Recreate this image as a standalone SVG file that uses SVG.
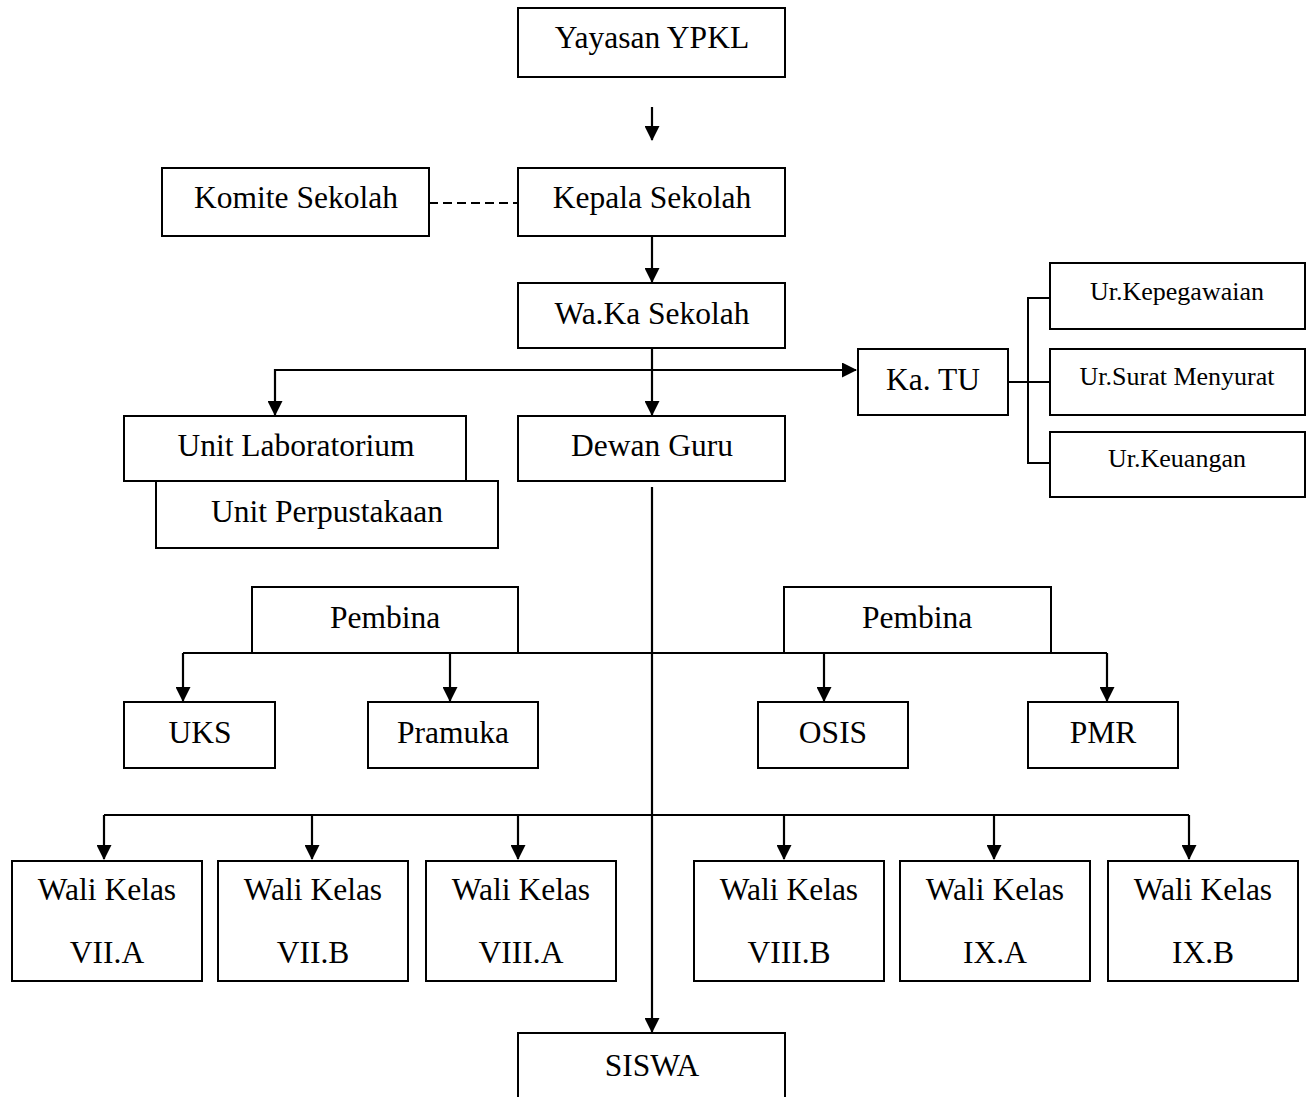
<svg xmlns="http://www.w3.org/2000/svg" width="1311" height="1097" viewBox="0 0 1311 1097">
<style>
.box{fill:#fff;stroke:#000;stroke-width:2}
.t{font-family:"Liberation Serif","Times New Roman",serif;font-size:31.5px;fill:#000;text-anchor:middle}
.s{font-family:"Liberation Serif","Times New Roman",serif;font-size:26px;fill:#000;text-anchor:middle}
.c{fill:none;stroke:#000;stroke-width:2}
.a{fill:none;stroke:#000;stroke-width:2.2;marker-end:url(#arr)}
</style>
<defs>
<marker id="arr" viewBox="0 0 15 15" refX="14" refY="7.5" markerWidth="15" markerHeight="15" markerUnits="userSpaceOnUse" orient="auto">
<path d="M0,0 L15,7.5 L0,15 z" fill="#000"/>
</marker>
</defs>
<rect x="0" y="0" width="1311" height="1097" fill="#fff"/>
<g id="connectors">
<line class="a" x1="652" y1="107" x2="652" y2="140"/>
<line class="c" x1="429" y1="203" x2="518" y2="203" stroke-dasharray="9 5"/>
<line class="a" x1="652" y1="236" x2="652" y2="282"/>
<line class="a" x1="652" y1="348" x2="652" y2="415"/>
<polyline class="a" points="652,370 275,370 275,415"/>
<line class="a" x1="652" y1="370" x2="856" y2="370"/>
<line class="c" x1="1008" y1="382" x2="1050" y2="382"/>
<polyline class="c" points="1050,298 1028,298 1028,463 1050,463"/>
<line class="a" x1="652" y1="487" x2="652" y2="1032"/>
<line class="c" x1="183" y1="653" x2="1107" y2="653"/>
<line class="a" x1="183" y1="653" x2="183" y2="701"/>
<line class="a" x1="450" y1="653" x2="450" y2="701"/>
<line class="a" x1="824" y1="653" x2="824" y2="701"/>
<line class="a" x1="1107" y1="653" x2="1107" y2="701"/>
<line class="c" x1="104" y1="815" x2="1189" y2="815"/>
<line class="a" x1="104" y1="815" x2="104" y2="859"/>
<line class="a" x1="312" y1="815" x2="312" y2="859"/>
<line class="a" x1="518" y1="815" x2="518" y2="859"/>
<line class="a" x1="784" y1="815" x2="784" y2="859"/>
<line class="a" x1="994" y1="815" x2="994" y2="859"/>
<line class="a" x1="1189" y1="815" x2="1189" y2="859"/>
</g>
<g id="yayasan"><rect class="box" x="518" y="8" width="267" height="69"/><text class="t" x="652" y="48">Yayasan YPKL</text></g>
<g id="komite"><rect class="box" x="162" y="168" width="267" height="68"/><text class="t" x="296" y="208">Komite Sekolah</text></g>
<g id="kepala"><rect class="box" x="518" y="168" width="267" height="68"/><text class="t" x="652" y="208">Kepala Sekolah</text></g>
<g id="waka"><rect class="box" x="518" y="283" width="267" height="65"/><text class="t" x="652" y="324">Wa.Ka Sekolah</text></g>
<g id="katu"><rect class="box" x="858" y="349" width="150" height="66"/><text class="t" x="933" y="390">Ka. TU</text></g>
<g id="ur-kepegawaian"><rect class="box" x="1050" y="263" width="255" height="66"/><text class="s" x="1177" y="300">Ur.Kepegawaian</text></g>
<g id="ur-surat"><rect class="box" x="1050" y="349" width="255" height="66"/><text class="s" x="1177" y="385">Ur.Surat Menyurat</text></g>
<g id="ur-keuangan"><rect class="box" x="1050" y="432" width="255" height="65"/><text class="s" x="1177" y="467">Ur.Keuangan</text></g>
<g id="unit-lab"><rect class="box" x="124" y="416" width="342" height="65"/><text class="t" x="296" y="456">Unit Laboratorium</text></g>
<g id="unit-perpus"><rect class="box" x="156" y="481" width="342" height="67"/><text class="t" x="327" y="522">Unit Perpustakaan</text></g>
<g id="dewan-guru"><rect class="box" x="518" y="416" width="267" height="65"/><text class="t" x="652" y="456">Dewan Guru</text></g>
<g id="pembina-1"><rect class="box" x="252" y="587" width="266" height="66"/><text class="t" x="385" y="628">Pembina</text></g>
<g id="pembina-2"><rect class="box" x="784" y="587" width="267" height="66"/><text class="t" x="917" y="628">Pembina</text></g>
<g id="uks"><rect class="box" x="124" y="702" width="151" height="66"/><text class="t" x="200" y="743">UKS</text></g>
<g id="pramuka"><rect class="box" x="368" y="702" width="170" height="66"/><text class="t" x="453" y="743">Pramuka</text></g>
<g id="osis"><rect class="box" x="758" y="702" width="150" height="66"/><text class="t" x="833" y="743">OSIS</text></g>
<g id="pmr"><rect class="box" x="1028" y="702" width="150" height="66"/><text class="t" x="1103" y="743">PMR</text></g>
<g id="wk-7a"><rect class="box" x="12" y="861" width="190" height="120"/><text class="t" x="107" y="900">Wali Kelas</text><text class="t" x="107" y="963">VII.A</text></g>
<g id="wk-7b"><rect class="box" x="218" y="861" width="190" height="120"/><text class="t" x="313" y="900">Wali Kelas</text><text class="t" x="313" y="963">VII.B</text></g>
<g id="wk-8a"><rect class="box" x="426" y="861" width="190" height="120"/><text class="t" x="521" y="900">Wali Kelas</text><text class="t" x="521" y="963">VIII.A</text></g>
<g id="wk-8b"><rect class="box" x="694" y="861" width="190" height="120"/><text class="t" x="789" y="900">Wali Kelas</text><text class="t" x="789" y="963">VIII.B</text></g>
<g id="wk-9a"><rect class="box" x="900" y="861" width="190" height="120"/><text class="t" x="995" y="900">Wali Kelas</text><text class="t" x="995" y="963">IX.A</text></g>
<g id="wk-9b"><rect class="box" x="1108" y="861" width="190" height="120"/><text class="t" x="1203" y="900">Wali Kelas</text><text class="t" x="1203" y="963">IX.B</text></g>
<g id="siswa"><rect class="box" x="518" y="1033" width="267" height="80"/><text class="t" x="652" y="1076">SISWA</text></g>
</svg>
